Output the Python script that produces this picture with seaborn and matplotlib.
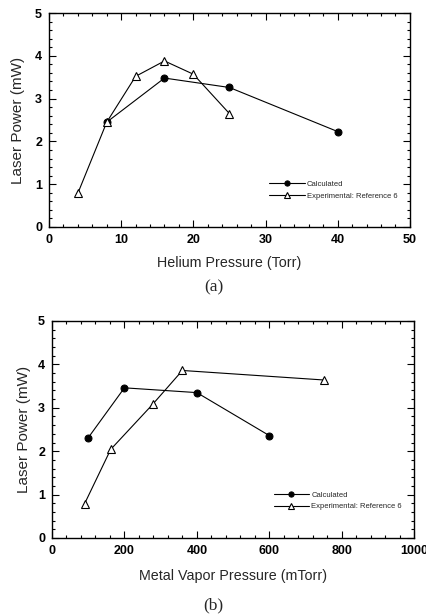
import matplotlib
matplotlib.use("Agg")
import matplotlib.pyplot as plt
from matplotlib.ticker import AutoMinorLocator, MultipleLocator
import seaborn as sns
import pandas as pd

# Panel (a): Helium pressure
he_calc_x = [8, 16, 25, 40]
he_calc_y = [2.45, 3.48, 3.26, 2.23]
he_exp_x = [4, 8, 12, 16, 20, 25]
he_exp_y = [0.79, 2.45, 3.52, 3.88, 3.57, 2.65]

# Panel (b): Metal vapor pressure
mv_calc_x = [100, 200, 400, 600]
mv_calc_y = [2.31, 3.46, 3.35, 2.36]
mv_exp_x = [90, 162, 278, 360, 752]
mv_exp_y = [0.79, 2.04, 3.08, 3.86, 3.64]

labels = ["Calculated", "Experimental: Reference 6"]

sns.set_style("ticks")
plt.rcParams['font.family'] = ['Liberation Sans', 'DejaVu Sans']

fig = plt.figure(figsize=(4.27, 6.14), dpi=100)
ax1 = fig.add_axes([0.1148, 0.6303, 0.845, 0.3485])
ax2 = fig.add_axes([0.1218, 0.1238, 0.848, 0.3534])


def draw(ax, cx, cy, ex, ey, xmax, xmajor, xlabel, ylab_x, xlabpad):
    dc = pd.DataFrame({"x": cx, "y": cy})
    de = pd.DataFrame({"x": ex, "y": ey})
    sns.lineplot(data=dc, x="x", y="y", ax=ax, color="black", lw=0.8,
                 marker="o", markersize=5, markerfacecolor="black",
                 markeredgecolor="black", label=labels[0], sort=False)
    sns.lineplot(data=de, x="x", y="y", ax=ax, color="black", lw=0.8,
                 marker="^", markersize=6, markerfacecolor="white",
                 markeredgecolor="black", markeredgewidth=0.8,
                 label=labels[1], sort=False)
    ax.set_xlim(0, xmax)
    ax.set_ylim(0, 5)
    ax.xaxis.set_major_locator(MultipleLocator(xmajor))
    ax.xaxis.set_minor_locator(AutoMinorLocator(5))
    ax.yaxis.set_major_locator(MultipleLocator(1))
    ax.yaxis.set_minor_locator(AutoMinorLocator(5))
    ax.tick_params(which="both", direction="in", top=True, right=True,
                   width=0.8, colors="black")
    ax.tick_params(which="major", length=5, labelsize=9, pad=5)
    ax.tick_params(which="minor", length=2.5)
    for lab in ax.get_xticklabels() + ax.get_yticklabels():
        lab.set_fontweight("bold")
    for s in ax.spines.values():
        s.set_linewidth(1.0)
        s.set_color("black")
    ax.set_xlabel(xlabel, fontsize=10.3, labelpad=xlabpad)
    ax.set_ylabel("Laser Power (mW)", fontsize=11)
    ax.yaxis.set_label_coords(ylab_x, 0.5)
    ax.legend(loc="lower right", bbox_to_anchor=(0.985, 0.095),
              frameon=False, fontsize=5.5, handlelength=4.6,
              handletextpad=0.3, labelspacing=0.6, markerscale=0.75)


draw(ax1, he_calc_x, he_calc_y, he_exp_x, he_exp_y, 50, 10,
     "Helium Pressure (Torr)", -0.067, 7)
draw(ax2, mv_calc_x, mv_calc_y, mv_exp_x, mv_exp_y, 1000, 200,
     "Metal Vapor Pressure (mTorr)", -0.059, 9)

fig.text(0.5, 1 - 287 / 614, "(a)", ha="center", va="center",
         fontsize=12.5, family="Liberation Serif")
fig.text(0.5, 1 - 605 / 614, "(b)", ha="center", va="center",
         fontsize=12.5, family="Liberation Serif")

fig.savefig("out.png", dpi=100)
